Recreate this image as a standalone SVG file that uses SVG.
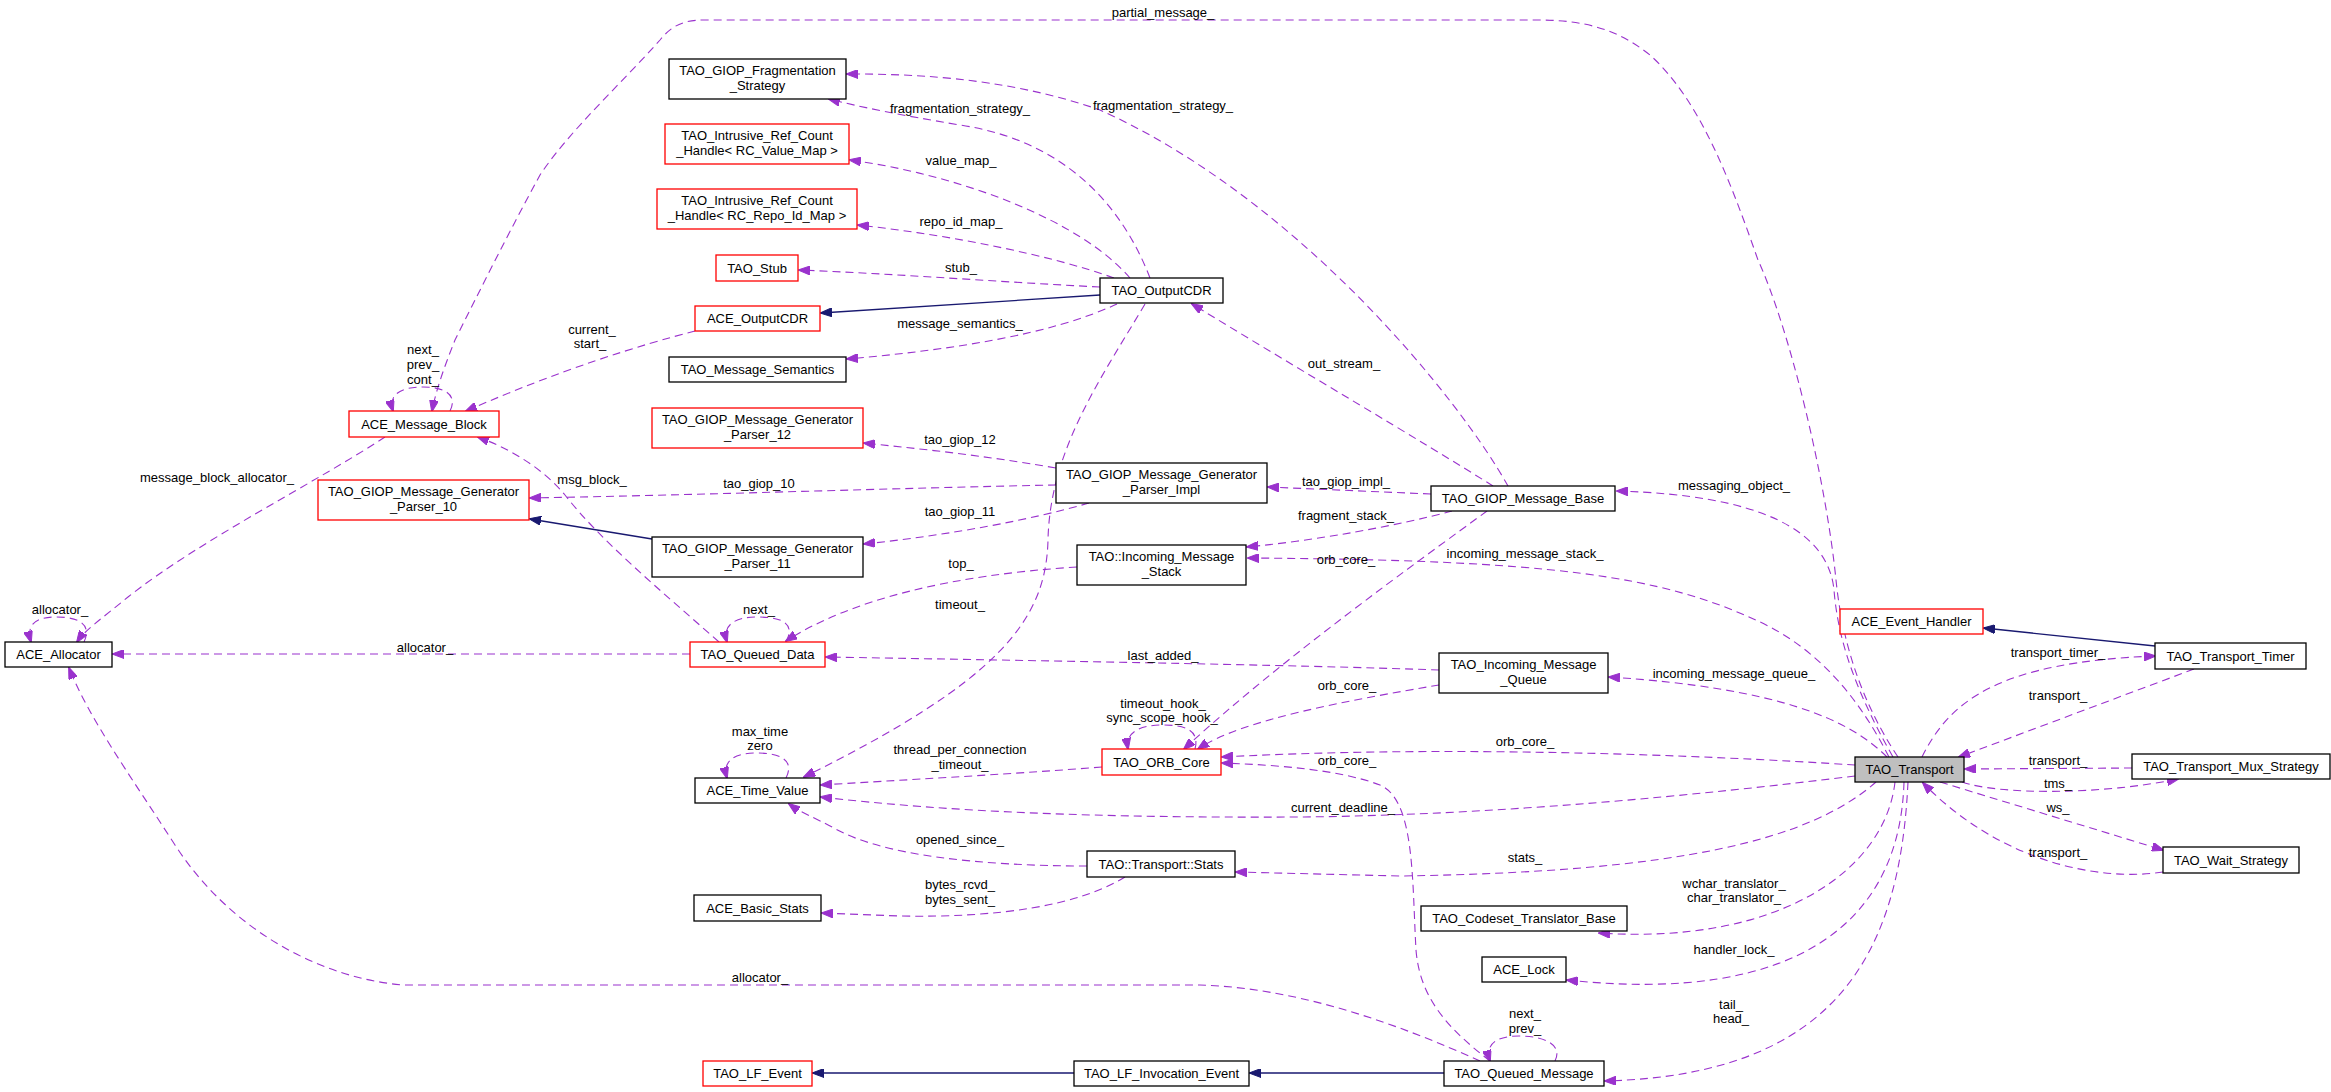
<svg xmlns="http://www.w3.org/2000/svg" width="2331" height="1092" viewBox="0 0 2331 1092">
<style>
text{font-family:"Liberation Sans",Arial,Helvetica,sans-serif;font-size:13px;fill:#000;}
.n text{text-anchor:middle;}
.lb text{text-anchor:middle;}
.bk{fill:#fff;stroke:#000;stroke-width:1.3;}
.rd{fill:#fff;stroke:#ff0000;stroke-width:1.3;}
.cur{fill:#bfbfbf;stroke:#000;stroke-width:1.3;}
.e{fill:none;stroke:#9a32cd;stroke-width:1.1;stroke-dasharray:8,5;marker-end:url(#ap);}
.i{fill:none;stroke:#191970;stroke-width:1.3;marker-end:url(#ab);}
</style>
<defs>
<marker id="ap" markerWidth="12" markerHeight="9" refX="11" refY="4.5" orient="auto" markerUnits="userSpaceOnUse"><path d="M0,0 L12,4.5 L0,9 z" fill="#9a32cd" stroke="#9a32cd" stroke-dasharray="none"/></marker>
<marker id="ab" markerWidth="12" markerHeight="9" refX="11" refY="4.5" orient="auto" markerUnits="userSpaceOnUse"><path d="M0,0 L12,4.5 L0,9 z" fill="#191970" stroke="#191970" stroke-dasharray="none"/></marker>
</defs>
<rect width="2331" height="1092" fill="#fff"/>
<g id="edges">
<path class="e" d="M1898,757 C1860,700 1842,640 1836,580 C1826,480 1790,330 1758,260 C1730,180 1700,100 1650,55 C1615,27 1580,20 1537,20 L704,20 C680,20 670,28 660,40 C620,85 570,130 540,175 C510,230 480,290 455,340 C445,365 436,390 432,411"/>
<path class="e" d="M1893,757 C1855,690 1838,640 1834,590 C1828,530 1760,495 1617,491"/>
<path class="e" d="M1889,757 C1860,700 1820,650 1760,622 C1660,575 1550,560 1248,558"/>
<path class="e" d="M1887,757 C1850,720 1780,688 1609,677"/>
<path class="e" d="M1922,757 C1950,700 2000,662 2155,656"/>
<path class="e" d="M2194,669 L1959,757"/>
<path class="i" d="M2155,646 L1984,628"/>
<path class="e" d="M1855,765 C1700,755 1450,745 1222,757"/>
<path class="e" d="M1855,776 C1700,795 1500,815 1300,817 C1100,818 950,812 821,797"/>
<path class="e" d="M1876,782 C1810,840 1680,872 1400,876 L1236,872"/>
<path class="e" d="M1895,782 C1885,870 1780,945 1599,933"/>
<path class="e" d="M1904,782 C1900,920 1800,1005 1567,980"/>
<path class="e" d="M1908,782 C1900,950 1840,1075 1605,1081"/>
<path class="e" d="M2132,768 L1965,769"/>
<path class="e" d="M1962,782 C2000,795 2100,795 2178,779"/>
<path class="e" d="M1940,782 L2163,850"/>
<path class="e" d="M2163,872 C2100,882 2000,862 1923,783"/>
<path class="e" d="M1508,486 C1460,400 1300,200 1100,110 C1000,75 900,74 847,74"/>
<path class="e" d="M1493,486 C1420,440 1300,370 1192,304"/>
<path class="e" d="M1431,494 L1268,487"/>
<path class="e" d="M1452,511 C1400,525 1320,540 1247,547"/>
<path class="e" d="M1487,511 C1420,560 1280,660 1184,749"/>
<path class="e" d="M1150,278 C1120,200 1060,140 960,125 C900,115 860,107 829,99"/>
<path class="e" d="M1130,278 C1080,220 960,175 850,160"/>
<path class="e" d="M1114,278 C1050,255 950,235 858,225"/>
<path class="e" d="M1100,287 C1000,282 900,274 799,270"/>
<path class="i" d="M1100,295 L821,313"/>
<path class="e" d="M1117,304 C1050,335 950,350 847,359"/>
<path class="e" d="M1145,304 C1100,380 1050,450 1048,540 C1046,620 1000,680 804,777"/>
<path class="e" d="M1056,468 C980,455 930,450 864,443"/>
<path class="e" d="M1056,485 C900,488 700,495 530,498"/>
<path class="e" d="M1089,503 C1030,520 950,535 864,544"/>
<path class="i" d="M652,539 L530,519"/>
<path class="e" d="M1077,567 C950,575 850,600 786,641"/>
<path class="e" d="M719,642 C660,590 600,540 565,495 C540,465 505,447 478,437"/>
<path class="e" d="M690,654 L113,654"/>
<path class="e" d="M786,642 C795,625 785,617 757,617 C735,617 722,625 727,642"/>
<path class="e" d="M450,411 C458,395 445,387 423,387 C400,387 388,395 393,411"/>
<path class="e" d="M695,331 C640,345 560,370 466,411"/>
<path class="e" d="M385,437 C320,480 200,540 128,597 C100,620 85,630 77,642"/>
<path class="e" d="M84,642 C92,625 80,617 56,617 C35,617 26,625 31,642"/>
<path class="e" d="M1480,1061 C1400,1025 1300,988 1200,985 L403,985 C320,978 230,930 175,845 C130,775 90,720 69,668"/>
<path class="e" d="M786,778 C795,760 780,753 757,753 C735,753 722,760 727,778"/>
<path class="e" d="M1102,767 C1000,775 900,780 821,785"/>
<path class="e" d="M1087,866 C980,866 880,855 834,828 C815,818 800,812 789,804"/>
<path class="e" d="M1125,877 C1080,905 1000,918 900,916 L822,913"/>
<path class="e" d="M1439,670 C1300,665 1000,660 826,657"/>
<path class="e" d="M1439,685 C1350,700 1240,720 1198,749"/>
<path class="e" d="M1195,749 C1200,730 1185,725 1163,725 C1140,725 1125,732 1128,749"/>
<path class="e" d="M1490,1061 C1450,1030 1420,1000 1416,950 C1412,880 1415,800 1380,785 C1340,770 1280,765 1222,763"/>
<path class="e" d="M1555,1061 C1563,1045 1545,1036 1519,1036 C1495,1036 1485,1045 1490,1061"/>
<path class="i" d="M1444,1073 L1250,1073"/>
<path class="i" d="M1074,1073 L813,1073"/>
</g>
<g id="edge-labels" class="lb">
<text x="1163" y="17">partial_message_</text>
<text x="960" y="113">fragmentation_strategy_</text>
<text x="1163" y="110">fragmentation_strategy_</text>
<text x="961" y="165">value_map_</text>
<text x="961" y="226">repo_id_map_</text>
<text x="961" y="272">stub_</text>
<text x="960" y="328">message_semantics_</text>
<text x="1344" y="368">out_stream_</text>
<text x="592" y="334">current_</text>
<text x="590" y="348">start_</text>
<text x="423" y="354">next_</text>
<text x="423" y="369">prev_</text>
<text x="423" y="384">cont_</text>
<text x="217" y="482">message_block_allocator_</text>
<text x="592" y="484">msg_block_</text>
<text x="960" y="444">tao_giop_12</text>
<text x="759" y="488">tao_giop_10</text>
<text x="1346" y="486">tao_giop_impl_</text>
<text x="960" y="516">tao_giop_11</text>
<text x="1346" y="520">fragment_stack_</text>
<text x="1734" y="490">messaging_object_</text>
<text x="1525" y="558">incoming_message_stack_</text>
<text x="1346" y="564">orb_core_</text>
<text x="961" y="568">top_</text>
<text x="960" y="609">timeout_</text>
<text x="759" y="614">next_</text>
<text x="60" y="614">allocator_</text>
<text x="425" y="652">allocator_</text>
<text x="2058" y="657">transport_timer_</text>
<text x="1163" y="660">last_added_</text>
<text x="1734" y="678">incoming_message_queue_</text>
<text x="1347" y="690">orb_core_</text>
<text x="2058" y="700">transport_</text>
<text x="1163" y="708">timeout_hook_</text>
<text x="1162" y="722">sync_scope_hook_</text>
<text x="760" y="736">max_time</text>
<text x="760" y="750">zero</text>
<text x="1525" y="746">orb_core_</text>
<text x="960" y="754">thread_per_connection</text>
<text x="960" y="769">_timeout_</text>
<text x="1347" y="765">orb_core_</text>
<text x="2058" y="765">transport_</text>
<text x="2058" y="788">tms_</text>
<text x="1343" y="812">current_deadline_</text>
<text x="2058" y="812">ws_</text>
<text x="960" y="844">opened_since_</text>
<text x="2058" y="857">transport_</text>
<text x="1525" y="862">stats_</text>
<text x="1734" y="888">wchar_translator_</text>
<text x="1734" y="902">char_translator_</text>
<text x="960" y="889">bytes_rcvd_</text>
<text x="960" y="904">bytes_sent_</text>
<text x="1734" y="954">handler_lock_</text>
<text x="760" y="982">allocator_</text>
<text x="1731" y="1009">tail_</text>
<text x="1731" y="1023">head_</text>
<text x="1525" y="1018">next_</text>
<text x="1525" y="1033">prev_</text>
</g>
<g id="n-frag" class="n"><rect class="bk" x="669" y="59" width="177" height="40"/><text x="757.5" y="75">TAO_GIOP_Fragmentation</text><text x="757.5" y="90">_Strategy</text></g>
<g id="n-valuemap" class="n"><rect class="rd" x="665" y="124" width="184" height="40"/><text x="757" y="140">TAO_Intrusive_Ref_Count</text><text x="757" y="155">_Handle&lt; RC_Value_Map &gt;</text></g>
<g id="n-repoidmap" class="n"><rect class="rd" x="657" y="189" width="200" height="40"/><text x="757" y="205">TAO_Intrusive_Ref_Count</text><text x="757" y="220">_Handle&lt; RC_Repo_Id_Map &gt;</text></g>
<g id="n-stub" class="n"><rect class="rd" x="716" y="255" width="82" height="26"/><text x="757" y="272.5">TAO_Stub</text></g>
<g id="n-aceoutputcdr" class="n"><rect class="rd" x="695" y="306" width="125" height="25"/><text x="757.5" y="323">ACE_OutputCDR</text></g>
<g id="n-msgsem" class="n"><rect class="bk" x="669" y="357" width="177" height="25"/><text x="757.5" y="374">TAO_Message_Semantics</text></g>
<g id="n-taooutputcdr" class="n"><rect class="bk" x="1100" y="278" width="123" height="25"/><text x="1161.5" y="295">TAO_OutputCDR</text></g>
<g id="n-msgblock" class="n"><rect class="rd" x="349" y="411" width="150" height="26"/><text x="424" y="428.5">ACE_Message_Block</text></g>
<g id="n-parser12" class="n"><rect class="rd" x="652" y="408" width="211" height="40"/><text x="757.5" y="424">TAO_GIOP_Message_Generator</text><text x="757.5" y="439">_Parser_12</text></g>
<g id="n-parser10" class="n"><rect class="rd" x="318" y="480" width="211" height="40"/><text x="423.5" y="496">TAO_GIOP_Message_Generator</text><text x="423.5" y="511">_Parser_10</text></g>
<g id="n-parser11" class="n"><rect class="bk" x="652" y="537" width="211" height="40"/><text x="757.5" y="553">TAO_GIOP_Message_Generator</text><text x="757.5" y="568">_Parser_11</text></g>
<g id="n-parserimpl" class="n"><rect class="bk" x="1056" y="463" width="211" height="40"/><text x="1161.5" y="479">TAO_GIOP_Message_Generator</text><text x="1161.5" y="494">_Parser_Impl</text></g>
<g id="n-imstack" class="n"><rect class="bk" x="1077" y="545" width="169" height="40"/><text x="1161.5" y="561">TAO::Incoming_Message</text><text x="1161.5" y="576">_Stack</text></g>
<g id="n-msgbase" class="n"><rect class="bk" x="1431" y="486" width="184" height="25"/><text x="1523" y="503">TAO_GIOP_Message_Base</text></g>
<g id="n-queueddata" class="n"><rect class="rd" x="690" y="642" width="135" height="25"/><text x="757.5" y="659">TAO_Queued_Data</text></g>
<g id="n-allocator" class="n"><rect class="bk" x="5" y="642" width="107" height="25"/><text x="58.5" y="659">ACE_Allocator</text></g>
<g id="n-imqueue" class="n"><rect class="bk" x="1439" y="653" width="169" height="40"/><text x="1523.5" y="669">TAO_Incoming_Message</text><text x="1523.5" y="684">_Queue</text></g>
<g id="n-eventhandler" class="n"><rect class="rd" x="1840" y="609" width="143" height="25"/><text x="1911.5" y="626">ACE_Event_Handler</text></g>
<g id="n-timer" class="n"><rect class="bk" x="2155" y="643" width="151" height="26"/><text x="2230.5" y="660.5">TAO_Transport_Timer</text></g>
<g id="n-orbcore" class="n"><rect class="rd" x="1102" y="749" width="119" height="26"/><text x="1161.5" y="766.5">TAO_ORB_Core</text></g>
<g id="n-timevalue" class="n"><rect class="bk" x="695" y="778" width="125" height="25"/><text x="757.5" y="795">ACE_Time_Value</text></g>
<g id="n-transport" class="n"><rect class="cur" x="1855" y="757" width="109" height="25"/><text x="1909.5" y="774">TAO_Transport</text></g>
<g id="n-mux" class="n"><rect class="bk" x="2132" y="754" width="198" height="25"/><text x="2231" y="771">TAO_Transport_Mux_Strategy</text></g>
<g id="n-stats" class="n"><rect class="bk" x="1087" y="851" width="148" height="26"/><text x="1161" y="868.5">TAO::Transport::Stats</text></g>
<g id="n-wait" class="n"><rect class="bk" x="2163" y="847" width="136" height="26"/><text x="2231" y="864.5">TAO_Wait_Strategy</text></g>
<g id="n-basicstats" class="n"><rect class="bk" x="694" y="895" width="127" height="26"/><text x="757.5" y="912.5">ACE_Basic_Stats</text></g>
<g id="n-codeset" class="n"><rect class="bk" x="1421" y="906" width="206" height="25"/><text x="1524" y="923">TAO_Codeset_Translator_Base</text></g>
<g id="n-lock" class="n"><rect class="bk" x="1482" y="957" width="84" height="25"/><text x="1524" y="974">ACE_Lock</text></g>
<g id="n-lfevent" class="n"><rect class="rd" x="703" y="1061" width="109" height="25"/><text x="757.5" y="1078">TAO_LF_Event</text></g>
<g id="n-lfinv" class="n"><rect class="bk" x="1074" y="1061" width="175" height="25"/><text x="1161.5" y="1078">TAO_LF_Invocation_Event</text></g>
<g id="n-queuedmsg" class="n"><rect class="bk" x="1444" y="1061" width="160" height="25"/><text x="1524" y="1078">TAO_Queued_Message</text></g>
</svg>
